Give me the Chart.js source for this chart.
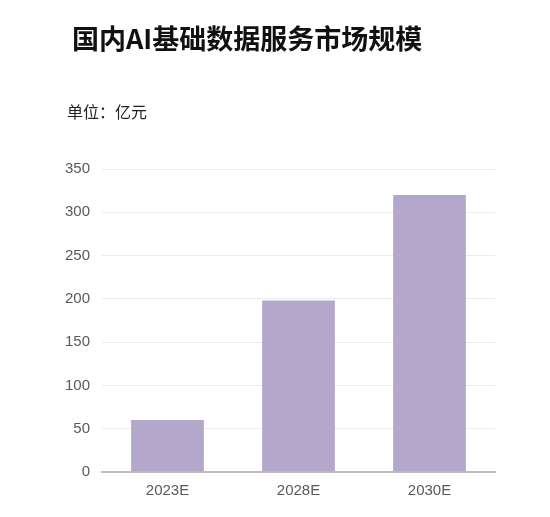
<!DOCTYPE html>
<html>
<head>
<meta charset="utf-8">
<script src="https://cdn.jsdelivr.net/npm/chart.js@4"></script>
<style>
  body { margin: 0; background: #fff; }
  #wrap { position: relative; width: 550px; height: 517px; }
  #title { position: absolute; left: 72px; top: 18px; font: bold 27px "Noto Sans CJK SC", sans-serif; color: #111; white-space: nowrap; }
  #unit { position: absolute; left: 67px; top: 99px; font: 16px "Noto Sans CJK SC", sans-serif; color: #222; }
  canvas { position: absolute; left: 0; top: 0; }
</style>
</head>
<body>
<div id="wrap">
  <canvas id="myChart" width="550" height="517"></canvas>
  <div id="title">国内AI基础数据服务市场规模</div>
  <div id="unit">单位：亿元</div>
</div>
<script>
// 年份和市场规模（亿元）
const years = ['2023E', '2028E', '2030E'];
const marketSize = [60, 198, 320];

const data = {
    labels: years,
    datasets: [{
        label: 'market',
        backgroundColor: '#b3a7cb',
        data: marketSize,
        categoryPercentage: 1,
        barPercentage: 0.555,
    }]
};

const config = {
    type: 'bar',
    data: data,
    options: {
        responsive: false,
        animation: false,
        layout: { padding: { top: 169, right: 55, left: 0, bottom: 0 } },
        plugins: { legend: { display: false }, tooltip: { enabled: false } },
        scales: {
            x: {
                grid: { display: false, drawTicks: false },
                border: { color: '#c0c0c0', width: 2 },
                ticks: { color: '#595959', font: { family: 'Liberation Sans', size: 15 }, padding: 10 },
                afterFit: s => { s.height = 45; }
            },
            y: {
                min: 0,
                max: 350,
                ticks: { stepSize: 50, color: '#595959', font: { family: 'Liberation Sans', size: 15 }, padding: 12 },
                grid: { color: '#ebebeb', drawTicks: false },
                border: { display: false },
                afterFit: s => { s.width = 102; }
            }
        }
    }
};

new Chart(document.getElementById('myChart'), config);
</script>
</body>
</html>
